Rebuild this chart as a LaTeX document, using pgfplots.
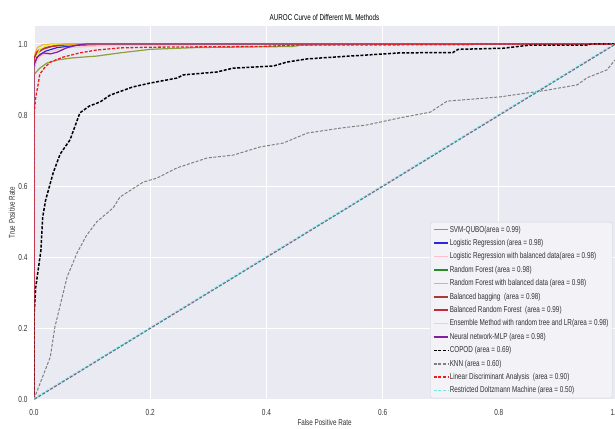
\documentclass[border=0pt]{standalone}
\usepackage{fontspec}
\setmainfont{Liberation Sans}[FakeStretch=0.74]
\usepackage{pgfplots}
\pgfplotsset{compat=1.18}
\definecolor{bgc}{RGB}{234,234,242}
\definecolor{txt}{RGB}{50,50,50}
\definecolor{cSVM}{RGB}{140,160,60}
\definecolor{cLR}{RGB}{40,40,220}
\definecolor{cLRB}{RGB}{255,192,203}
\definecolor{cRF}{RGB}{40,140,40}
\definecolor{cRFB}{RGB}{240,180,60}
\definecolor{cBB}{RGB}{165,60,60}
\definecolor{cBRF}{RGB}{200,40,60}
\definecolor{cENS}{RGB}{240,240,40}
\definecolor{cMLP}{RGB}{130,30,160}
\definecolor{cKNN}{RGB}{128,128,128}
\definecolor{cLDA}{RGB}{235,30,30}
\definecolor{cRBM}{RGB}{120,230,230}
\definecolor{cDIAG}{RGB}{120,100,130}
\begin{document}
\begin{tikzpicture}[x=1bp,y=1bp]
\useasboundingbox (0,0) rectangle (615,428);
\begin{axis}[
  at={(34bp,29bp)}, anchor=south west,
  width=581bp, height=372.75bp, scale only axis,
  xmin=0, xmax=1, ymin=0, ymax=1.05,
  xtick={0,0.2,0.4,0.6,0.8,1.0},
  ytick={0,0.2,0.4,0.6,0.8,1.0},
  /pgf/number format/.cd, fixed, fixed zerofill, precision=1, assume math mode=true, /pgfplots/.cd,
  axis background/.style={fill=bgc},
  axis line style={draw=none},
  major tick length=0pt,
  grid=major,
  major grid style={white, line width=1bp},
  tick label style={font=\fontsize{8.8}{10}\selectfont, text=txt},
  xticklabel style={yshift=-7bp},
  yticklabel style={xshift=-3bp},
  title={AUROC Curve of Different ML Methods},
  every axis title/.style={at={(axis description cs:0.5,1.024)}, anchor=center, font=\fontsize{8.5}{10}\selectfont, text=black},
  xlabel={False Positive Rate},
  ylabel={True Positive Rate},
  xlabel style={at={(axis description cs:0.5,-0.0617)}, anchor=center, font=\fontsize{8.5}{10}\selectfont, text=txt},
  ylabel style={at={(axis description cs:-0.038,0.5)}, anchor=center, font=\fontsize{8.5}{10}\selectfont, text=txt},
  legend image code/.code={\draw[#1, line width=1.6bp] (0bp,0bp) -- (14bp,0bp);},
  legend cell align=left,
  legend style={at={(0.682,0.475)}, anchor=north west,
    fill={rgb,255:red,243;green,243;blue,247}, draw={rgb,255:red,210;green,210;blue,215},
    rounded corners=2bp,
    font=\fontsize{8.6}{10}\selectfont, text=txt,
    row sep=3.3bp, inner sep=2.5bp,
    nodes={inner sep=1.2bp}},
]
% SVM-QUBO
\addplot[cSVM, line width=1.2bp] coordinates {(0,0) (0,0.91) (0.002,0.918) (0.01,0.932) (0.022,0.946) (0.04,0.955) (0.067,0.961) (0.108,0.966) (0.148,0.975) (0.2,0.985) (0.28,0.99) (0.446,0.993) (0.46,0.997) (0.6,1) (1,1)};
\addlegendentry{SVM-QUBO(area = 0.99)}
% Logistic Regression
\addplot[cLR, line width=1.2bp] coordinates {(0,0) (0,0.93) (0.005,0.96) (0.01,0.97) (0.02,0.98) (0.04,0.99) (0.08,0.997) (0.15,1) (1,1)};
\addlegendentry{Logistic Regression (area = 0.98)}
% LR balanced
\addplot[cLRB, line width=1.2bp] coordinates {(0,0) (0,0.94) (0.01,0.965) (0.03,0.98) (0.06,0.99) (0.12,0.995) (0.32,0.997) (0.446,0.998) (0.46,1) (1,1)};
\addlegendentry{Logistic Regression with balanced data(area = 0.98)}
% Random Forest
\addplot[cRF, line width=1.2bp] coordinates {(0,0) (0,0.95) (0.005,0.97) (0.01,0.98) (0.02,0.99) (0.04,0.997) (0.06,1) (1,1)};
\addlegendentry{Random Forest (area = 0.98)}
% RF balanced
\addplot[cRFB, line width=1.2bp] coordinates {(0,0) (0,0.93) (0.002,0.975) (0.006,0.99) (0.015,0.998) (0.03,1) (1,1)};
\addlegendentry{Random Forest with balanced data (area = 0.98)}
% Balanced bagging
\addplot[cBB, line width=1.2bp] coordinates {(0,0) (0,0.95) (0.005,0.975) (0.015,0.985) (0.03,0.993) (0.05,1) (1,1)};
\addlegendentry{Balanced bagging\ \ (area = 0.98)}
% Balanced Random Forest
\addplot[cBRF, line width=1.2bp] coordinates {(0,0) (0,0.96) (0.005,0.978) (0.01,0.985) (0.03,0.993) (0.07,1) (1,1)};
\addlegendentry{Balanced Random Forest\ \ (area = 0.99)}
% Ensemble
\addplot[cENS, line width=1.2bp] coordinates {(0,0) (0,0.91) (0.003,0.96) (0.01,0.985) (0.02,0.995) (0.04,1) (1,1)};
\addlegendentry{Ensemble Method with random tree and LR(area = 0.98)}
% MLP
\addplot[cMLP, line width=1.2bp] coordinates {(0,0) (0,0.94) (0.005,0.963) (0.016,0.975) (0.028,0.972) (0.04,0.977) (0.056,0.989) (0.074,0.997) (0.09,1) (1,1)};
\addlegendentry{Neural network-MLP (area = 0.98)}
% COPOD
\addplot[black, line width=1.5bp, dash pattern=on 3bp off 1.6bp] coordinates {(0,0) (0,0.23) (0.003,0.315) (0.012,0.42) (0.015,0.513) (0.02,0.56) (0.033,0.637) (0.045,0.69) (0.062,0.73) (0.079,0.806) (0.095,0.825) (0.114,0.837) (0.131,0.856) (0.17,0.879) (0.2,0.89) (0.246,0.904) (0.257,0.913) (0.314,0.921) (0.343,0.932) (0.412,0.938) (0.435,0.949) (0.47,0.958) (0.515,0.963) (0.573,0.969) (0.63,0.975) (0.721,0.976) (0.73,0.985) (0.807,0.988) (0.854,0.997) (0.95,0.997) (0.96,1) (1,1)};
\addlegendentry{COPOD (area = 0.69)}
% KNN
\addplot[cKNN, line width=1bp, dash pattern=on 3bp off 1.6bp] coordinates {(0,0) (0.028,0.118) (0.036,0.203) (0.057,0.344) (0.074,0.411) (0.09,0.46) (0.108,0.499) (0.136,0.538) (0.148,0.569) (0.188,0.611) (0.211,0.622) (0.246,0.651) (0.298,0.679) (0.343,0.687) (0.389,0.71) (0.429,0.721) (0.47,0.749) (0.527,0.763) (0.573,0.772) (0.63,0.792) (0.682,0.808) (0.711,0.839) (0.802,0.851) (0.883,0.87) (0.935,0.885) (0.952,0.905) (0.986,0.927) (1,0.955)};
\addlegendentry{KNN (area = 0.60)}
% LDA
\addplot[cLDA, line width=1.3bp, dash pattern=on 3bp off 1.6bp] coordinates {(0,0) (0,0.8) (0.003,0.85) (0.007,0.885) (0.01,0.915) (0.019,0.935) (0.028,0.949) (0.05,0.963) (0.079,0.975) (0.108,0.983) (0.148,0.989) (0.2,0.991) (0.39,0.993) (0.45,0.997) (0.75,0.998) (0.76,1) (1,1)};
\addlegendentry{Linear Discriminant Analysis\ \ (area = 0.90)}
% RBM
\addplot[cRBM, line width=2bp, dash pattern=on 3bp off 1.6bp] coordinates {(0,0) (1,1)};
\addlegendentry{Restricted Doltzmann Machine (area = 0.50)}
% diagonal
\addplot[cDIAG, line width=1bp, dash pattern=on 3bp off 1.6bp, forget plot, xshift=0.7bp] coordinates {(0,0) (1,1)};
\end{axis}
\end{tikzpicture}
\end{document}
